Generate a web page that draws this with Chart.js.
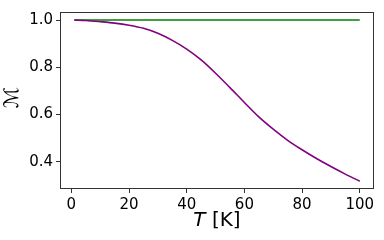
<!DOCTYPE html>
<html>
<head>
<meta charset="utf-8">
<script src="https://cdn.jsdelivr.net/npm/chart.js@4"></script>
<style>
  html, body { margin: 0; padding: 0; background: #fff; }
  #wrap { width: 384px; height: 240px; }
</style>
</head>
<body>
<div id="wrap"><canvas id="chart" width="384" height="240"></canvas></div>
<script>
// temperature samples (K)
const temps = [1, 5, 10, 15, 20, 25, 30, 35, 40, 45, 50, 55, 60, 65, 70, 75, 80, 85, 90, 95, 100];
// purple curve
const magPurple = [1.000, 0.998, 0.993, 0.987, 0.978, 0.965, 0.944, 0.914, 0.877, 0.831, 0.775,
                   0.714, 0.651, 0.590, 0.538, 0.491, 0.451, 0.414, 0.380, 0.348, 0.318];
// green line stays at 1
const magGreen = [1, 1, 1, 1, 1, 1, 1, 1, 1, 1, 1, 1, 1, 1, 1, 1, 1, 1, 1, 1, 1];

const xTicks = [0, 20, 40, 60, 80, 100];
const yTicks = [0.4, 0.6, 0.8, 1.0];

const font = 'DejaVu Sans';

function toPoints(ys) {
    return temps.map((t, i) => ({ x: t, y: ys[i] }));
}

// frame on all four sides + axis titles, like the matplotlib figure
const decorations = {
    id: 'decorations',
    afterDraw(chart) {
        const { ctx, chartArea: a } = chart;
        ctx.save();
        ctx.strokeStyle = '#333';
        ctx.lineWidth = 1;
        ctx.strokeRect(a.left + 0.5, a.top + 0.5, a.right - a.left - 1, a.bottom - a.top - 1);

        // x title: italic T followed by [K]
        ctx.fillStyle = '#000';
        ctx.textBaseline = 'middle';
        const cx = (a.left + a.right) / 2;
        const y = 221;
        ctx.font = 'italic 20px ' + font;
        const wT = ctx.measureText('T').width;
        ctx.font = '20px ' + font;
        const wRest = ctx.measureText(' [K]').width;
        const start = cx - (wT + wRest) / 2;
        ctx.textAlign = 'left';
        ctx.font = 'italic 20px ' + font;
        ctx.fillText('T', start, y);
        ctx.font = '20px ' + font;
        ctx.fillText(' [K]', start + wT, y);

        // y title
        ctx.translate(13, (a.top + a.bottom) / 2 - 3);
        ctx.rotate(-Math.PI / 2);
        ctx.textAlign = 'center';
        ctx.font = '20px ' + font;
        ctx.fillText('ℳ', 0, 0);
        ctx.restore();
    }
};

new Chart(document.getElementById('chart').getContext('2d'), {
    type: 'line',
    data: {
        datasets: [
            {
                label: 'purple',
                data: toPoints(magPurple),
                borderColor: '#800080',
                borderWidth: 1.6,
                pointRadius: 0,
                cubicInterpolationMode: 'monotone',
                fill: false
            },
            {
                label: 'green',
                data: toPoints(magGreen),
                borderColor: '#008000',
                borderWidth: 1.6,
                pointRadius: 0,
                fill: false
            }
        ]
    },
    options: {
        responsive: false,
        animation: false,
        events: [],
        layout: { padding: { top: 7, right: 10, left: 0, bottom: 0 } },
        plugins: {
            legend: { display: false },
            tooltip: { enabled: false }
        },
        scales: {
            x: {
                type: 'linear',
                min: -3.95,
                max: 104.95,
                afterBuildTicks: scale => { scale.ticks = xTicks.map(v => ({ value: v })); },
                afterFit: scale => { scale.height = 51; },
                grid: { drawOnChartArea: false, tickLength: 4, color: '#333' },
                border: { display: false },
                ticks: {
                    color: '#000',
                    padding: 3,
                    font: { family: font, size: 15 },
                    maxRotation: 0
                }
            },
            y: {
                min: 0.285,
                max: 1.034,
                afterBuildTicks: scale => { scale.ticks = yTicks.map(v => ({ value: v })); },
                afterFit: scale => { scale.width = 60; },
                grid: { drawOnChartArea: false, tickLength: 4, color: '#333' },
                border: { display: false },
                ticks: {
                    color: '#000',
                    padding: 3,
                    font: { family: font, size: 15 },
                    callback: v => v.toFixed(1)
                }
            }
        }
    },
    plugins: [decorations]
});
</script>
</body>
</html>
